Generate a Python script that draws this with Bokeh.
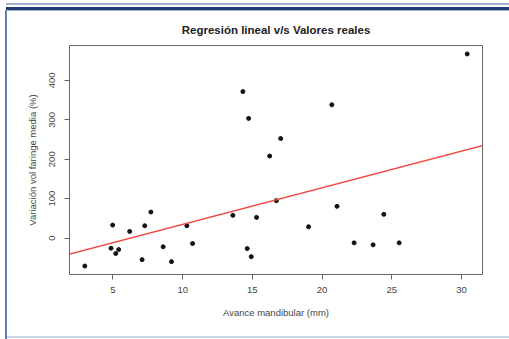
from bokeh.plotting import figure
from bokeh.models import Slope, FixedTicker, Range1d
from bokeh.embed import file_html
from bokeh.resources import INLINE

# data
avance_mm = [2.98, 4.98, 4.86, 5.20, 5.41, 6.20, 7.09, 7.28, 7.72, 8.60,
             9.20, 10.30, 10.71, 13.60, 14.32, 14.73, 14.63, 14.92, 15.30, 16.24,
             17.03, 16.72, 19.03, 20.70, 21.07, 22.30, 23.66, 24.43, 25.53, 30.41]
variacion_pct = [-70.7, 33.0, -25.5, -39.0, -29.0, 17.0, -54.5, 31.4, 66.0, -22.0,
                 -59.6, 31.4, -13.7, 57.7, 371.4, 303.5, -26.5, -47.0, 52.6, 208.0,
                 252.5, 95.0, 28.8, 338.0, 80.6, -12.0, -17.0, 60.3, -12.0, 466.8]
fit_intercept = -57.8
fit_slope = 9.28
x_ticks = [5, 10, 15, 20, 25, 30]
y_ticks = [0, 100, 200, 300, 400]

title = "Regresión lineal v/s Valores reales"
x_label = "Avance mandibular (mm)"
y_label = "Variación vol faringe media (%)"

def r_range(v):
    lo, hi = min(v), max(v)
    pad = 0.04 * (hi - lo)
    return lo - pad, hi + pad

xr = r_range(avance_mm)
yr = r_range(variacion_pct)

FONT = "Liberation Sans"

# page frame decoration (CSS backgrounds behind a transparent canvas border)
bands = [  # (x, y, w, h, color)
    (6, 3, 503, 2, "#9fb3cf"),
    (6, 7, 503, 3, "#1f3b73"),
    (6, 10, 503, 1, "#9fb3cf"),
    (5, 10, 2, 329, "#5a80b8"),
    (6, 336, 503, 2, "#c9d6e8"),
]
frame_styles = {
    "background-color": "white",
    "background-image": ", ".join(f"linear-gradient({c}, {c})" for *_, c in bands),
    "background-position": ", ".join(f"{x}px {y}px" for x, y, *_ in bands),
    "background-size": ", ".join(f"{w}px {h}px" for _, _, w, h, _ in bands),
    "background-repeat": "no-repeat",
}

p = figure(width=509, height=339, output_backend="svg", toolbar_location=None,
           x_range=Range1d(*xr), y_range=Range1d(*yr), title=title,
           min_border_left=69, min_border_right=27, min_border_top=45, min_border_bottom=65,
           styles=frame_styles)

p.background_fill_color = "white"
p.border_fill_color = None
p.outline_line_color = "#666666"
p.outline_line_width = 1
p.grid.visible = False

p.title.align = "center"
p.title.text_font = FONT
p.title.text_font_size = "11.5px"
p.title.text_font_style = "bold"
p.title.text_color = "#222222"
p.title.standoff = 19

for ax in (p.xaxis[0], p.yaxis[0]):
    ax.axis_line_color = None
    ax.major_tick_line_color = "#666666"
    ax.minor_tick_line_color = None
    ax.major_tick_in = 0
    ax.major_tick_out = 5
    ax.major_label_text_font = FONT
    ax.major_label_text_font_size = "9.5px"
    ax.major_label_text_color = "#444444"
    ax.axis_label_text_font = FONT
    ax.axis_label_text_font_size = "9.5px"
    ax.axis_label_text_font_style = "normal"
    ax.axis_label_text_color = "#444444"

p.xaxis.ticker = FixedTicker(ticks=x_ticks)
p.yaxis.ticker = FixedTicker(ticks=y_ticks)
p.xaxis.major_label_standoff = 7
p.yaxis.major_label_standoff = 9
p.yaxis.major_label_orientation = "vertical"
p.xaxis.axis_label = x_label
p.yaxis.axis_label = y_label
p.xaxis.axis_label_standoff = 11
p.yaxis.axis_label_standoff = 9

p.scatter(avance_mm, variacion_pct, size=4, color="#111111")
p.add_layout(Slope(gradient=fit_slope, y_intercept=fit_intercept,
                   line_color="#f04a44", line_width=1.4))

open("out.html", "w").write(file_html(p, INLINE))
